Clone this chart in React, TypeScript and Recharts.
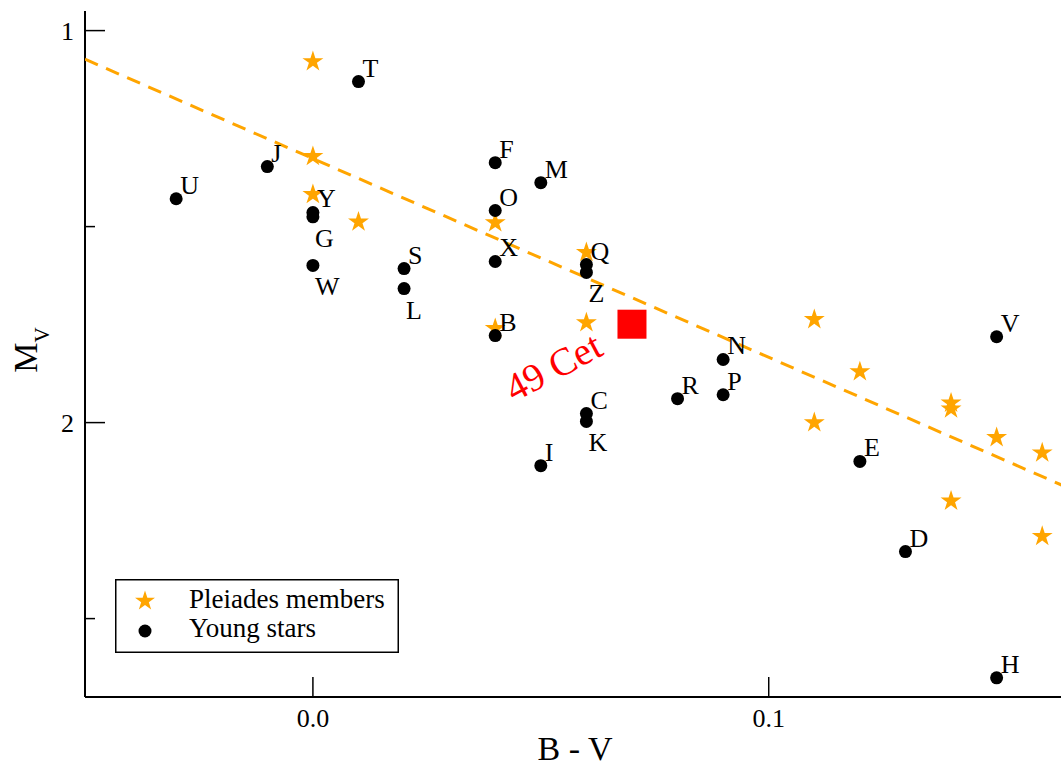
import { ComposedChart, Scatter, XAxis, YAxis, Legend } from "recharts";

// Pleiades members (orange stars)
const pleiadesBV = [0.0, 0.0, 0.0, 0.01, 0.04, 0.04, 0.06, 0.06, 0.11, 0.11, 0.12, 0.14, 0.14, 0.14, 0.15, 0.16, 0.16];
const pleiadesMV = [1.079, 1.321, 1.418, 1.488, 1.49, 1.76, 1.566, 1.745, 1.737, 2.0, 1.87, 1.95, 1.965, 2.2, 2.038, 2.077, 2.29];

// young stars (black dots, lettered)
const youngNames = ["T", "U", "J", "Y", "G", "W", "S", "L", "F", "M", "O", "X", "B", "Q", "Z", "C", "K", "I", "R", "N", "P", "V", "E", "D", "H"];
const youngBV = [0.01, -0.03, -0.01, 0.0, 0.0, 0.0, 0.02, 0.02, 0.04, 0.05, 0.04, 0.04, 0.04, 0.06, 0.06, 0.06, 0.06, 0.05, 0.08, 0.09, 0.09, 0.15, 0.12, 0.13, 0.15];
const youngMV = [1.13, 1.429, 1.347, 1.464, 1.475, 1.599, 1.607, 1.658, 1.337, 1.388, 1.459, 1.589, 1.778, 1.597, 1.617, 1.977, 1.997, 2.11, 1.939, 1.839, 1.929, 1.781, 2.099, 2.329, 2.651];
const labelsBelow = ["G", "W", "L", "Z", "K"];

// 49 Cet
const cetBV = [0.07];
const cetMV = [1.749];

// dashed fit
const fitBV = [-0.05, 0.165];
const fitMV = [1.073, 2.163];

const xTicks = [0, 0.1];
const yTicks = [1, 1.5, 2, 2.5];

const FONT = "'Liberation Serif', 'Times New Roman', serif";
const ORANGE = "#ffa500";

const pleiadesData = pleiadesBV.map((x, i) => ({ x, y: pleiadesMV[i] }));
const youngData = youngBV.map((x, i) => ({ x, y: youngMV[i], name: youngNames[i] }));
const cetData = cetBV.map((x, i) => ({ x, y: cetMV[i] }));
const fitData = fitBV.map((x, i) => ({ x, y: fitMV[i] }));

function starPoints(cx: number, cy: number, R: number) {
  const r = R * 0.382;
  const pts: string[] = [];
  for (let i = 0; i < 10; i++) {
    const a = -Math.PI / 2 + (i * Math.PI) / 5;
    const rad = i % 2 === 0 ? R : r;
    pts.push(`${cx + rad * Math.cos(a)},${cy + rad * Math.sin(a)}`);
  }
  return pts.join(" ");
}

const StarShape = (p: any) => <polygon points={starPoints(p.cx, p.cy, 11)} fill={ORANGE} />;

const DotShape = (p: any) => {
  const below = labelsBelow.includes(p.payload.name);
  return (
    <g>
      <circle cx={p.cx} cy={p.cy} r={6.5} fill="#000" />
      <text x={p.cx + (below ? 2 : 4)} y={p.cy + (below ? 30 : -5)} fontFamily={FONT} fontSize={26} fill="#000">
        {p.payload.name}
      </text>
    </g>
  );
};

const CetShape = (p: any) => {
  const tx = p.cx - 27;
  const ty = p.cy + 30;
  return (
    <g>
      <rect x={p.cx - 14.5} y={p.cy - 14.5} width={29} height={29} fill="#ff0000" />
      <text x={tx} y={ty} transform={`rotate(-28 ${tx} ${ty})`} textAnchor="end" fontFamily={FONT} fontSize={39} fill="#ff0000">
        49 Cet
      </text>
    </g>
  );
};

const BottomTick = (p: any) => (
  <g>
    <line x1={p.x} y1={p.y} x2={p.x} y2={p.y - 20} stroke="#000" strokeWidth={1.5} />
    <text x={p.x} y={p.y + 30} textAnchor="middle" fontFamily={FONT} fontSize={26} fill="#000">
      {p.payload.value.toFixed(1)}
    </text>
  </g>
);

const TopTick = (p: any) => <line x1={p.x} y1={p.y} x2={p.x} y2={p.y + 20} stroke="#000" strokeWidth={1.5} />;

const LeftTick = (p: any) => {
  const major = Number.isInteger(p.payload.value);
  return (
    <g>
      <line x1={p.x} y1={p.y} x2={p.x + (major ? 20 : 10)} y2={p.y} stroke="#000" strokeWidth={1.5} />
      {major && (
        <text x={p.x - 11} y={p.y + 9} textAnchor="end" fontFamily={FONT} fontSize={26} fill="#000">
          {p.payload.value}
        </text>
      )}
    </g>
  );
};

const RightTick = (p: any) => {
  const major = Number.isInteger(p.payload.value);
  return <line x1={p.x} y1={p.y} x2={p.x - (major ? 20 : 10)} y2={p.y} stroke="#000" strokeWidth={1.5} />;
};

const XTitle = (props: any) => {
  const { x, y, width } = props.viewBox;
  return (
    <text x={x + width / 2} y={y + 63} textAnchor="middle" fontFamily={FONT} fontSize={34} fill="#000">
      B - V
    </text>
  );
};

const YTitle = (props: any) => {
  const { y, height } = props.viewBox;
  const cx = 37;
  const cy = y + height / 2 - 4;
  return (
    <text x={cx} y={cy} transform={`rotate(-90 ${cx} ${cy})`} textAnchor="middle" fontFamily={FONT} fontSize={34} fill="#000">
      M<tspan fontSize={21} dy={12}>V</tspan>
    </text>
  );
};

const LegendBox = () => (
  <svg width={284} height={74} style={{ display: "block" }}>
    <rect x={0.75} y={0.75} width={282.5} height={72.5} fill="#fff" stroke="#000" strokeWidth={1.5} />
    <polygon points={starPoints(30, 22, 10.5)} fill={ORANGE} />
    <circle cx={30} cy={52} r={6.5} fill="#000" />
    <text x={74} y={29} fontFamily={FONT} fontSize={27} fill="#000">Pleiades members</text>
    <text x={74} y={58} fontFamily={FONT} fontSize={27} fill="#000">Young stars</text>
  </svg>
);

export default function App() {
  return (
    <div style={{ position: "fixed", left: 0, top: 0, width: 1061, height: 768, overflow: "hidden", background: "#fff" }}>
      <ComposedChart width={1075} height={768} margin={{ top: 11, right: 10, bottom: 0, left: 25 }}>
        <XAxis
          xAxisId="b"
          type="number"
          dataKey="x"
          domain={[-0.05, 0.165]}
          ticks={xTicks}
          interval={0}
          allowDataOverflow
          height={71}
          axisLine={{ stroke: "#000", strokeWidth: 2 }}
          tickLine={false}
          tickSize={0}
          tickMargin={0}
          tick={(p: any) => <BottomTick {...p} />}
          label={XTitle}
        />
        <XAxis
          xAxisId="t"
          orientation="top"
          type="number"
          dataKey="x"
          domain={[-0.05, 0.165]}
          ticks={xTicks}
          interval={0}
          allowDataOverflow
          height={0}
          axisLine={{ stroke: "#000", strokeWidth: 2 }}
          tickLine={false}
          tickSize={0}
          tickMargin={0}
          tick={(p: any) => <TopTick {...p} />}
        />
        <YAxis
          yAxisId="l"
          type="number"
          dataKey="y"
          domain={[0.95, 2.7]}
          reversed
          ticks={yTicks}
          interval={0}
          allowDataOverflow
          width={60}
          axisLine={{ stroke: "#000", strokeWidth: 2 }}
          tickLine={false}
          tickSize={0}
          tickMargin={0}
          tick={(p: any) => <LeftTick {...p} />}
          label={YTitle}
        />
        <YAxis
          yAxisId="r"
          orientation="right"
          type="number"
          dataKey="y"
          domain={[0.95, 2.7]}
          reversed
          ticks={yTicks}
          interval={0}
          allowDataOverflow
          width={0}
          axisLine={{ stroke: "#000", strokeWidth: 2 }}
          tickLine={false}
          tickSize={0}
          tickMargin={0}
          tick={(p: any) => <RightTick {...p} />}
        />
        <Scatter
          xAxisId="b"
          yAxisId="l"
          data={fitData}
          line={{ stroke: ORANGE, strokeWidth: 3, strokeDasharray: "14 9" }}
          shape={() => <g />}
          legendType="none"
          isAnimationActive={false}
        />
        <Scatter xAxisId="b" yAxisId="l" name="Pleiades members" data={pleiadesData} shape={StarShape} isAnimationActive={false} />
        <Scatter xAxisId="t" yAxisId="r" data={pleiadesData} shape={() => <g />} legendType="none" isAnimationActive={false} />
        <Scatter xAxisId="b" yAxisId="l" name="Young stars" data={youngData} shape={DotShape} isAnimationActive={false} />
        <Scatter xAxisId="b" yAxisId="l" name="49 Cet" data={cetData} shape={CetShape} legendType="none" isAnimationActive={false} />
        <Legend
          layout="horizontal"
          align="center"
          verticalAlign="middle"
          content={() => <LegendBox />}
          wrapperStyle={{ left: 115, top: 579, width: 284, height: 74 }}
        />
      </ComposedChart>
    </div>
  );
}
